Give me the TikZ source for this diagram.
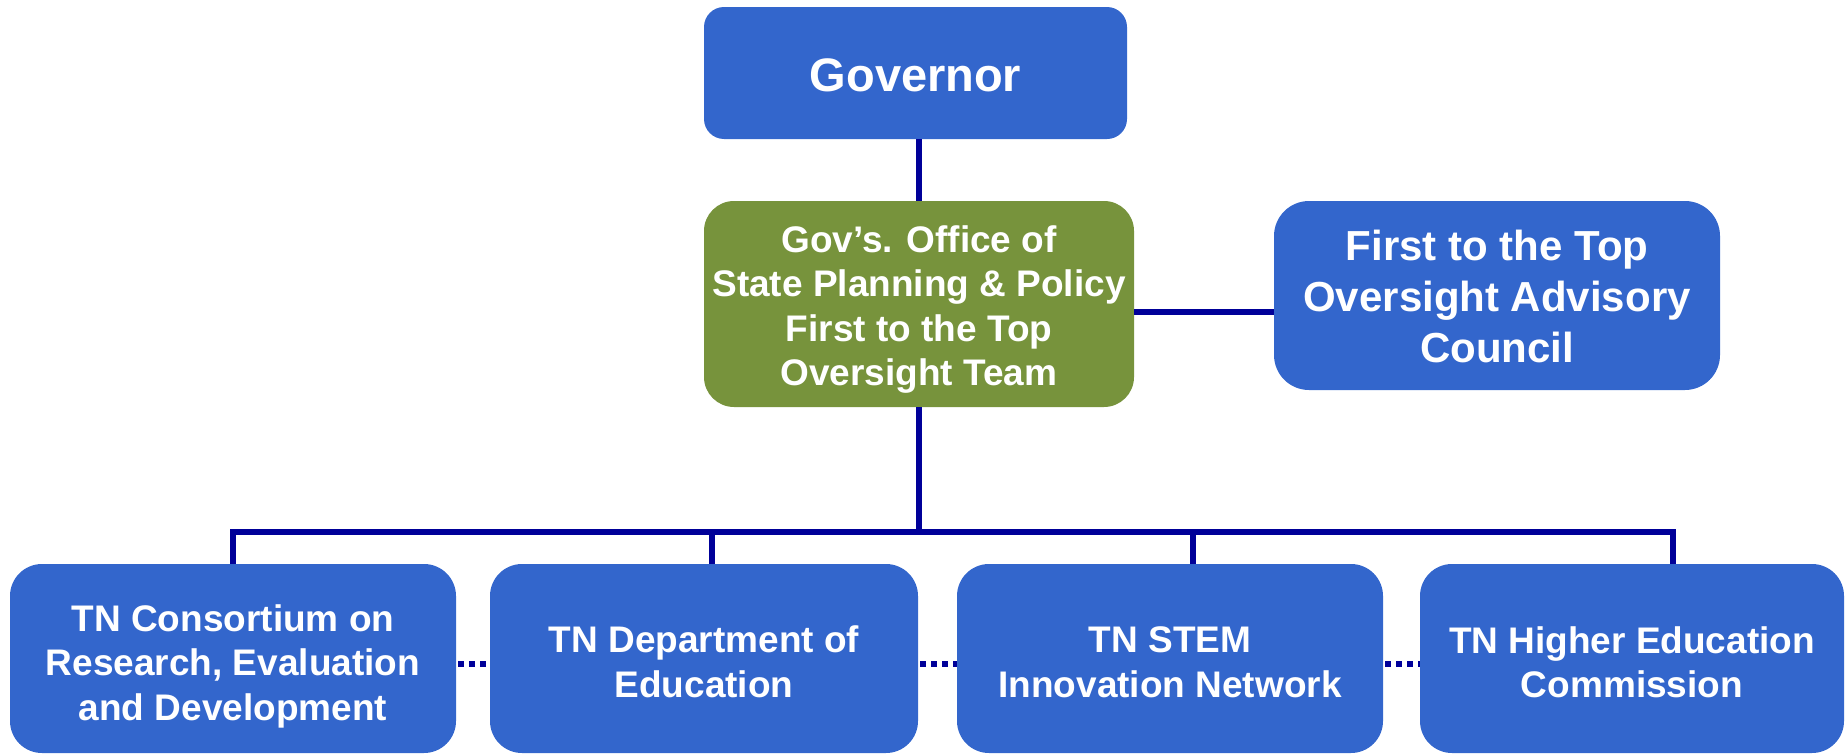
\documentclass[tikz,border=0pt]{standalone}
\usepackage{fontspec}
\setmainfont{Liberation Sans}
\definecolor{boxblue}{HTML}{3366CC}
\definecolor{boxgreen}{HTML}{77933C}
\definecolor{linenavy}{HTML}{000099}
\begin{document}
\begin{tikzpicture}[x=1pt,y=-1pt,
  basebox/.style={rectangle, text=white, align=center, inner sep=0pt, text depth=0pt},
  bluebox/.style={basebox, fill=boxblue},
  greenbox/.style={basebox, fill=boxgreen},
  txtmid/.style={font=\bfseries\fontsize{37}{44.5}\selectfont},
  txtbig/.style={font=\bfseries\fontsize{42}{51}\selectfont},
  txtgov/.style={font=\bfseries\fontsize{47}{56}\selectfont},
  bottombox/.style={bluebox, txtmid, minimum height=189pt, rounded corners=32pt},
  conn/.style={draw=linenavy, line width=6pt},
  dotconn/.style={draw=linenavy, line width=6pt, dash pattern=on 6pt off 5pt, dash phase=-2pt}
]
\useasboundingbox (0,0) rectangle (1845,755);

\node[bluebox, txtgov, minimum width=423pt, minimum height=132pt, rounded corners=20pt, text height=36pt] (gov) at (915.5,73) {Governor};
\node[greenbox, txtmid, minimum width=430pt, minimum height=206pt, rounded corners=30pt, text height=163pt] (osp) at (919,304) {Gov’s. Office of\\State Planning \& Policy\\First to the Top\\Oversight Team};
\node[bluebox, txtbig, minimum width=446pt, minimum height=189pt, rounded corners=35pt, text height=134pt] (adv) at (1497,295.5) {First to the Top\\Oversight Advisory\\Council};

\node[bottombox, minimum width=446pt, text height=123pt] (c1) at (233,658.5) {TN Consortium on\\Research, Evaluation\\and Development};
\node[bottombox, minimum width=428pt, text height=77pt] (c2) at (704,658.5) {TN Department of\\Education};
\node[bottombox, minimum width=426pt, text height=77pt] (c3) at (1170,658.5) {TN STEM\\Innovation Network};
\node[bottombox, minimum width=424pt, text height=78pt] (c4) at (1632,658.5) {TN Higher Education\\Commission};

\coordinate (hl) at (0,312);
\coordinate (busL) at (233,532);
\coordinate (busR) at (1673,532);
\coordinate (d2) at (712,532);
\coordinate (d3) at (1193,532);
\coordinate (dy) at (0,664);

\draw[conn] (osp.north |- gov.south) -- (osp.north);
\draw[conn] (osp.east |- hl) -- (adv.west |- hl);
\draw[conn] (osp.south) -- (osp.south |- busL);
\draw[conn] (busL |- c1.north) -- (busL) -- (busR) -- (busR |- c4.north);
\draw[conn] (d2) -- (d2 |- c2.north);
\draw[conn] (d3) -- (d3 |- c3.north);

\draw[dotconn] (c1.east |- dy) -- (c2.west |- dy);
\draw[dotconn] (c2.east |- dy) -- (c3.west |- dy);
\draw[dotconn] (c3.east |- dy) -- (c4.west |- dy);
\end{tikzpicture}
\end{document}
